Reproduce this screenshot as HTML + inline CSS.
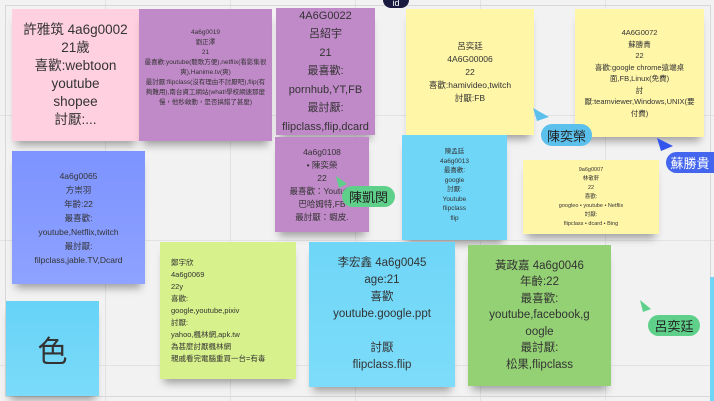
<!DOCTYPE html>
<html><head><meta charset="utf-8"><style>
*{margin:0;padding:0;box-sizing:border-box}
body{width:714px;height:401px;overflow:hidden;position:relative;font-family:"Liberation Sans","Noto Sans CJK TC",sans-serif;color:#333;
background-color:#f2f2f2;background-image:linear-gradient(#e2e2e2 1px,transparent 1px),linear-gradient(90deg,#e2e2e2 1px,transparent 1px);background-size:125px 125px;background-position:-20px -10px}
.n{position:absolute;display:flex;flex-direction:column;justify-content:center;align-items:center;text-align:center;box-shadow:0 8px 8px -4px rgba(0,0,0,.35)}
.p{position:absolute;border-radius:11px;font-size:13px;display:flex;align-items:center;justify-content:center;color:#222}
</style></head><body>
<div style="position:absolute;left:5px;top:5px;width:706px;height:392px;border:1px solid #d8d8d8"></div>

<div class="n" style="left:12px;top:9px;width:127px;height:132px;background:#ffd0df;font-size:13.5px;line-height:18px">許雅筑 4a6g0002<br>21歲<br>喜歡:webtoon<br>youtube<br>shopee<br>討厭:...</div>
<div class="n" style="left:139px;top:9px;width:133px;height:132px;background:#c08ac8;font-size:6.5px;line-height:10px;padding:0 5px;justify-content:flex-start;padding-top:19px">4a6g0019<br>劉正澤<br>21<br>最喜歡:youtube(聽歌方便),netflix(看影集很爽),Hanime.tv(爽)<br>最討厭:flipclass(沒有理由不討厭吧),flip(有夠難用),南台資工網站(what!學校網速那麼慢，他秒啟動，是否搞錯了甚麼)</div>
<div class="n" style="left:276px;top:8px;width:99px;height:127px;background:#c08ac8;font-size:11px;line-height:18.5px;white-space:nowrap;overflow:hidden">4A6G0022<br>呂紹宇<br>21<br>最喜歡:<br>pornhub,YT,FB<br>最討厭:<br>flipclass,flip,dcard</div>
<div class="n" style="left:275px;top:137px;width:94px;height:95px;background:#c08ac8;font-size:8.5px;line-height:13px;white-space:nowrap;overflow:hidden">4a6g0108<br>• 陳奕榮<br>22<br>最喜歡：Youtube<br>巴哈姆特,FB<br>最討厭：蝦皮.</div>
<div class="n" style="left:406px;top:9px;width:128px;height:126px;background:#fff6a8;font-size:8.5px;line-height:13px">呂奕廷<br>4A6G00006<br>22<br>喜歡:hamivideo,twitch<br>討厭:FB</div>
<div class="n" style="left:575px;top:9px;width:129px;height:128px;background:#fff6a8;font-size:7.5px;line-height:11.5px;padding:0 8px">4A6G0072<br>蘇勝貴<br>22<br>喜歡:google chrome遠端桌面,FB,Linux(免費)<br>討厭:teamviewer,Windows,UNIX(要付費)</div>
<div class="n" style="left:12px;top:151px;width:133px;height:133px;background:linear-gradient(#7d93ff,#8ea2ff);font-size:8.5px;line-height:14px">4a6g0065<br>方崇羽<br>年齡:22<br>最喜歡:<br>youtube,Netflix,twitch<br>最討厭:<br>filpclass,jable.TV,Dcard</div>
<div class="n" style="left:402px;top:135px;width:105px;height:105px;background:#6fd6f8;font-size:6.5px;line-height:9.5px;justify-content:flex-start;padding-top:12px">陳孟廷<br>4a6g0013<br>最喜歡:<br>google<br>討厭:<br>Youtube<br>flipclass<br>flip</div>
<div class="n" style="left:523px;top:160px;width:136px;height:74px;background:#fff6a8;font-size:5.5px;line-height:9px">9a6g0007<br>林敬軒<br>22<br>喜歡:<br>googleo • youtube • Netflix<br>討厭:<br>flipclass • dcard • Bing</div>
<div class="n" style="left:160px;top:242px;width:136px;height:137px;background:#d7f28c;font-size:7.5px;line-height:12px;align-items:flex-start;text-align:left;padding-left:11px">鄭宇欣<br>4a6g0069<br>22y<br>喜歡:<br>google,youtube,pixiv<br>討厭:<br>yahoo,楓林網,apk.tw<br>為甚麼討厭楓林網<br>親戚看完電腦重買一台=有毒</div>
<div class="n" style="left:309px;top:242px;width:146px;height:145px;background:linear-gradient(#6fd6f8,#7ddcf9);font-size:11.5px;line-height:17px">李宏鑫 4a6g0045<br>age:21<br>喜歡<br>youtube.google.ppt<br><br>討厭<br>flipclass.flip</div>
<div class="n" style="left:468px;top:245px;width:143px;height:141px;background:#94d174;font-size:11.5px;line-height:16.5px;padding:0 6px">黃政嘉 4a6g0046<br>年齡:22<br>最喜歡:<br>youtube,facebook,g<br>oogle<br>最討厭:<br>松果,flipclass</div>
<div class="n" style="left:6px;top:301px;width:93px;height:95px;background:linear-gradient(#66d3f7,#7cdbf9);font-size:30px">色</div>
<div style="position:absolute;left:710px;top:277px;width:4px;height:124px;background:#6fd6f8"></div>

<div style="position:absolute;left:383px;top:-8px;width:26px;height:16px;border-radius:8px;background:#1a1a40;color:#fff;font-size:9px;text-align:center;line-height:22px">id</div>

<svg style="position:absolute;left:0;top:0" width="714" height="401">
<polygon points="533,108 549,117 537,121" fill="#5bc0eb"/>
<polygon points="657,138 673,146 661,151" fill="#3355ee"/>
<polygon points="336,176 347,184 339,188" fill="#5fd08a"/>
<polygon points="640,300 651,309 643,312" fill="#5fd08a"/>
</svg>
<div class="p" style="left:541px;top:124px;width:51px;height:22px;background:#5bc0eb">陳奕榮</div>
<div class="p" style="left:666px;top:152px;width:48px;height:21px;background:#4466ee;color:#fff;border-radius:11px 0 0 11px">蘇勝貴</div>
<div class="p" style="left:342px;top:186px;width:53px;height:21px;background:#5fd08a">陳凱閔</div>
<div class="p" style="left:648px;top:315px;width:52px;height:21px;background:#5fd08a">呂奕廷</div>
</body></html>
